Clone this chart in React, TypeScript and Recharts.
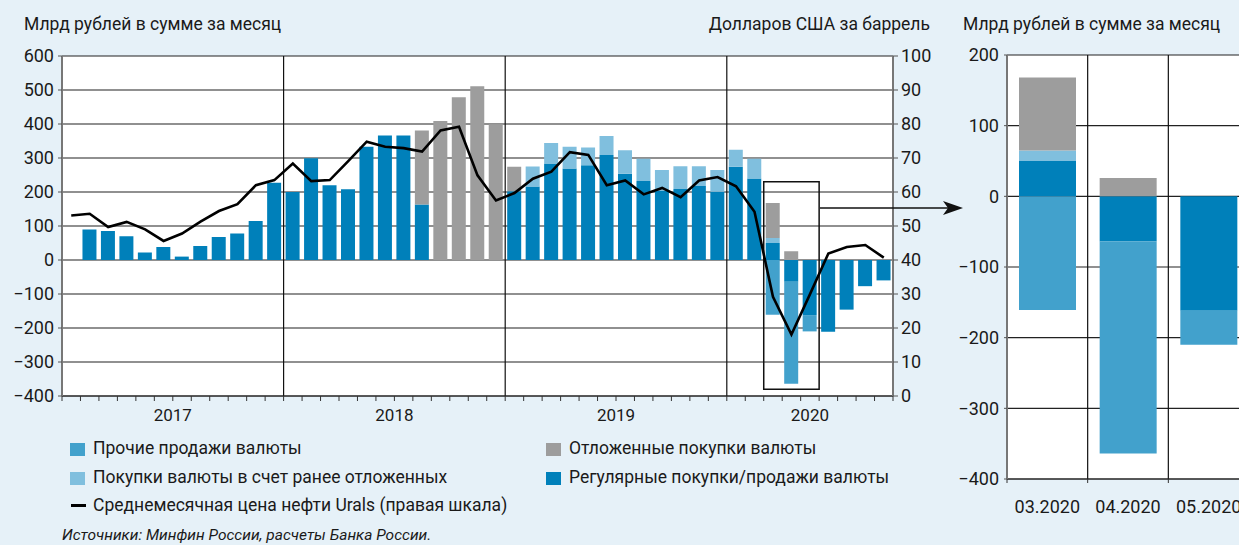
import {
  ComposedChart,
  Bar,
  Line,
  XAxis,
  YAxis,
  CartesianGrid,
  ReferenceLine,
  ReferenceArea,
} from "recharts";

// months Jan 2017 .. Sep 2020
const months = [
  "01.2017", "02.2017", "03.2017", "04.2017", "05.2017", "06.2017",
  "07.2017", "08.2017", "09.2017", "10.2017", "11.2017", "12.2017",
  "01.2018", "02.2018", "03.2018", "04.2018", "05.2018", "06.2018",
  "07.2018", "08.2018", "09.2018", "10.2018", "11.2018", "12.2018",
  "01.2019", "02.2019", "03.2019", "04.2019", "05.2019", "06.2019",
  "07.2019", "08.2019", "09.2019", "10.2019", "11.2019", "12.2019",
  "01.2020", "02.2020", "03.2020", "04.2020", "05.2020", "06.2020",
  "07.2020", "08.2020", "09.2020",
];

// Регулярные покупки/продажи валюты
const regular = [
  null, 90, 85, 70, 22, 38, 10, 41, 68, 78, 115, 227,
  200, 299, 220, 208, 333, 366, 366, 163, 0, 0, 0, 0,
  202, 216, 284, 269, 279, 309, 254, 232, 203, 209, 218, 201,
  274, 240, 50, -64, -162, -211, -146, -77, -60,
];

// Покупки валюты в счет ранее отложенных
const deferredUsed = [
  0, 0, 0, 0, 0, 0, 0, 0, 0, 0, 0, 0,
  0, 0, 0, 0, 0, 0, 0, 0, 0, 0, 0, 0,
  0, 59, 60, 64, 52, 56, 69, 66, 62, 67, 58, 64,
  50, 58, 15, 0, 0, 0, 0, 0, 0,
];

// Отложенные покупки валюты
const deferred = [
  0, 0, 0, 0, 0, 0, 0, 0, 0, 0, 0, 0,
  0, 0, 0, 0, 0, 0, 0, 218, 409, 479, 511, 399,
  72, 0, 0, 0, 0, 0, 0, 0, 0, 0, 0, 0,
  0, 0, 103, 26, 0, 0, 0, 0, 0,
];

// Прочие продажи валюты
const otherSales = [
  0, 0, 0, 0, 0, 0, 0, 0, 0, 0, 0, 0,
  0, 0, 0, 0, 0, 0, 0, 0, 0, 0, 0, 0,
  0, 0, 0, 0, 0, 0, 0, 0, 0, 0, 0, 0,
  0, 0, -161, -300, -48, 0, 0, 0, 0,
];

// Среднемесячная цена нефти Urals, долл. за баррель
const urals = [
  53.1, 53.6, 49.7, 51.2, 49.0, 45.6, 47.8, 51.3, 54.4, 56.4, 62.0, 63.5,
  68.4, 63.2, 63.5, 69.1, 74.8, 73.3, 72.9, 71.9, 78.1, 79.2, 64.9, 57.5,
  59.7, 63.9, 66.0, 71.7, 70.9, 62.0, 63.4, 59.3, 61.2, 58.5, 63.4, 64.4,
  61.7, 54.2, 29.2, 18.1, 29.9, 41.9, 43.8, 44.4, 40.7,
];

const leftTicks = [-400, -300, -200, -100, 0, 100, 200, 300, 400, 500, 600];
const rightTicks = [0, 10, 20, 30, 40, 50, 60, 70, 80, 90, 100];
const insetTicks = [-400, -300, -200, -100, 0, 100, 200];
const yearStarts = ["01.2018", "01.2019", "01.2020"];
const insetMonths = ["03.2020", "04.2020", "05.2020"];

const C_REGULAR = "#0080ba";
const C_USED = "#80bfde";
const C_DEFERRED = "#9d9d9d";
const C_OTHER = "#42a1cc";
const BG = "#e6f1f8";
const FONT = "Roboto, 'Open Sans', sans-serif";

const data = months.map((m, i) => ({
  month: m,
  regular: regular[i],
  deferredUsed: deferredUsed[i],
  deferred: deferred[i],
  otherSales: otherSales[i],
  urals: urals[i],
}));

const insetData = data.filter((d) => insetMonths.includes(d.month));

const MAIN_W = 940;
const MAIN_LEFT = 62;
const MAIN_RIGHT = 47;
const HALF = (MAIN_W - MAIN_LEFT - MAIN_RIGHT) / months.length / 2;

const INSET_W = 309;
const INSET_LEFT = 67;
const INSET_HALF = (INSET_W - INSET_LEFT) / insetMonths.length / 2;

const fmt = (v: number) => String(v).replace("-", "\u2212");

const MonthTick = (props: any) => {
  const { x, y, payload } = props;
  const m: string = payload.value;
  const idx = months.indexOf(m);
  const year = m.slice(3);
  const inYear = months.filter((v) => v.endsWith(year));
  const pos = inYear.indexOf(m);
  const n = inYear.length;
  let labelX: number | null = null;
  if (n % 2 === 0 && pos === n / 2) labelX = x - HALF;
  if (n % 2 === 1 && pos === (n - 1) / 2) labelX = x;
  return (
    <g>
      <line x1={x - HALF} x2={x - HALF} y1={y} y2={y + 5} stroke="#333" strokeWidth={1} />
      {idx === months.length - 1 && (
        <line x1={x + HALF} x2={x + HALF} y1={y} y2={y + 5} stroke="#333" strokeWidth={1} />
      )}
      {labelX !== null && (
        <text x={labelX} y={y + 25} textAnchor="middle" fontSize={17} fill="#1a1a1a" fontFamily={FONT}>
          {year}
        </text>
      )}
    </g>
  );
};

const InsetTick = (props: any) => {
  const { x, y, payload } = props;
  const idx = insetMonths.indexOf(payload.value);
  return (
    <g>
      <line x1={x - INSET_HALF} x2={x - INSET_HALF} y1={y} y2={y + 4} stroke="#333" />
      {idx === insetMonths.length - 1 && (
        <line x1={x + INSET_HALF} x2={x + INSET_HALF} y1={y} y2={y + 4} stroke="#333" />
      )}
      <text x={x} y={y + 34} textAnchor="middle" fontSize={18} fill="#1a1a1a" fontFamily={FONT}>
        {payload.value}
      </text>
    </g>
  );
};

const tickStyle = { fill: "#1a1a1a", fontSize: 18, fontFamily: FONT };

const Square = ({ color }: { color: string }) => (
  <span style={{ display: "inline-block", width: 15, height: 13, background: color }} />
);

const legendText: React.CSSProperties = {
  position: "absolute",
  fontSize: 17.5,
  lineHeight: "20px",
  color: "#1a1a1a",
  whiteSpace: "nowrap",
};

export default function App() {
  return (
    <div
      style={{
        position: "absolute",
        left: 0,
        top: 0,
        width: 1239,
        height: 545,
        overflow: "hidden",
        background: BG,
        fontFamily: FONT,
      }}
    >
      <div style={{ ...legendText, left: 24, top: 14 }}>Млрд рублей в сумме за месяц</div>
      <div style={{ ...legendText, right: 309, top: 14 }}>Долларов США за баррель</div>
      <div style={{ ...legendText, left: 963, top: 14 }}>Млрд рублей в сумме за месяц</div>

      <div style={{ position: "absolute", left: 0, top: 0 }}>
        <ComposedChart
          width={MAIN_W}
          height={426}
          data={data}
          stackOffset="sign"
          barSize={14}
          margin={{ top: 56, right: 0, bottom: 0, left: 0 }}
        >
          <CartesianGrid
            yAxisId="left"
            vertical={false}
            fill="#ffffff"
            stroke="#222"
            strokeWidth={1.2}
            horizontalValues={leftTicks}
          />
          <XAxis
            dataKey="month"
            interval={0}
            height={30}
            tickSize={0}
            tickMargin={0}
            tick={<MonthTick />}
            axisLine={{ stroke: "#222", strokeWidth: 1.2 }}
          />
          <YAxis
            yAxisId="left"
            width={MAIN_LEFT}
            domain={[-400, 600]}
            ticks={leftTicks}
            tickFormatter={fmt}
            tick={tickStyle}
            tickSize={4}
            tickMargin={4}
            axisLine={{ stroke: "#777", strokeWidth: 2 }}
            tickLine={{ stroke: "#555" }}
            allowDataOverflow
          />
          <YAxis
            yAxisId="right"
            orientation="right"
            width={MAIN_RIGHT}
            domain={[0, 100]}
            ticks={rightTicks}
            tick={tickStyle}
            tickSize={5}
            tickMargin={3}
            axisLine={{ stroke: "#777", strokeWidth: 2 }}
            tickLine={{ stroke: "#555" }}
          />
          {yearStarts.map((y) => (
            <ReferenceLine
              key={y}
              yAxisId="left"
              x={y}
              position="start"
              stroke="#111"
              strokeWidth={1.2}
            />
          ))}
          <Bar yAxisId="left" dataKey="regular" stackId="a" fill={C_REGULAR} isAnimationActive={false} />
          <Bar yAxisId="left" dataKey="deferredUsed" stackId="a" fill={C_USED} isAnimationActive={false} />
          <Bar yAxisId="left" dataKey="deferred" stackId="a" fill={C_DEFERRED} isAnimationActive={false} />
          <Bar yAxisId="left" dataKey="otherSales" stackId="a" fill={C_OTHER} isAnimationActive={false} />
          <ReferenceArea
            yAxisId="left"
            x1="03.2020"
            x2="05.2020"
            y1={-380}
            y2={230}
            fill="none"
            fillOpacity={0}
            stroke="#111"
            strokeWidth={1.5}
            ifOverflow="visible"
          />
          <Line
            yAxisId="right"
            dataKey="urals"
            type="linear"
            stroke="#000"
            strokeWidth={2.6}
            dot={false}
            isAnimationActive={false}
          />
        </ComposedChart>
      </div>

      <div style={{ position: "absolute", left: 940, top: 0 }}>
        <ComposedChart
          width={INSET_W}
          height={519}
          data={insetData}
          stackOffset="sign"
          barSize={57}
          margin={{ top: 55, right: 0, bottom: 0, left: 0 }}
        >
          <CartesianGrid
            vertical={false}
            fill="#ffffff"
            stroke="#222"
            strokeWidth={1.2}
            horizontalValues={insetTicks}
          />
          <XAxis
            dataKey="month"
            interval={0}
            height={40}
            tickSize={0}
            tickMargin={0}
            tick={<InsetTick />}
            axisLine={{ stroke: "#222", strokeWidth: 1.2 }}
          />
          <YAxis
            width={INSET_LEFT}
            domain={[-400, 200]}
            ticks={insetTicks}
            tickFormatter={fmt}
            tick={tickStyle}
            tickSize={3}
            tickMargin={5}
            axisLine={{ stroke: "#777", strokeWidth: 2 }}
            tickLine={{ stroke: "#555" }}
          />
          {insetMonths.slice(1).map((m) => (
            <ReferenceLine key={m} x={m} position="start" stroke="#111" strokeWidth={1.2} />
          ))}
          <Bar dataKey="regular" stackId="a" fill={C_REGULAR} isAnimationActive={false} />
          <Bar dataKey="deferredUsed" stackId="a" fill={C_USED} isAnimationActive={false} />
          <Bar dataKey="deferred" stackId="a" fill={C_DEFERRED} isAnimationActive={false} />
          <Bar dataKey="otherSales" stackId="a" fill={C_OTHER} isAnimationActive={false} />
        </ComposedChart>
      </div>

      {/* arrow from the highlighted box to the inset */}
      <svg
        width={1239}
        height={545}
        style={{ position: "absolute", left: 0, top: 0, pointerEvents: "none" }}
      >
        <line x1={820} y1={208} x2={950} y2={208} stroke="#111" strokeWidth={1.5} />
        <polygon points="963,208 943,201 948,208 943,215" fill="#111" />
      </svg>

      {/* legend */}
      <div style={{ position: "absolute", left: 70, top: 441 }}>
        <Square color={C_OTHER} />
      </div>
      <div style={{ ...legendText, left: 93, top: 438 }}>Прочие продажи валюты</div>
      <div style={{ position: "absolute", left: 70, top: 470 }}>
        <Square color={C_USED} />
      </div>
      <div style={{ ...legendText, left: 93, top: 467 }}>Покупки валюты в счет ранее отложенных</div>
      <div style={{ position: "absolute", left: 71, top: 504, width: 15, height: 3, background: "#000" }} />
      <div style={{ ...legendText, left: 93, top: 495 }}>Среднемесячная цена нефти Urals (правая шкала)</div>
      <div style={{ position: "absolute", left: 546, top: 441 }}>
        <Square color={C_DEFERRED} />
      </div>
      <div style={{ ...legendText, left: 569, top: 438 }}>Отложенные покупки валюты</div>
      <div style={{ position: "absolute", left: 546, top: 470 }}>
        <Square color={C_REGULAR} />
      </div>
      <div style={{ ...legendText, left: 569, top: 467 }}>Регулярные покупки/продажи валюты</div>
      <div style={{ ...legendText, left: 62, top: 526, fontSize: 15.5, fontStyle: "italic", lineHeight: "18px" }}>
        Источники: Минфин России, расчеты Банка России.
      </div>
    </div>
  );
}
